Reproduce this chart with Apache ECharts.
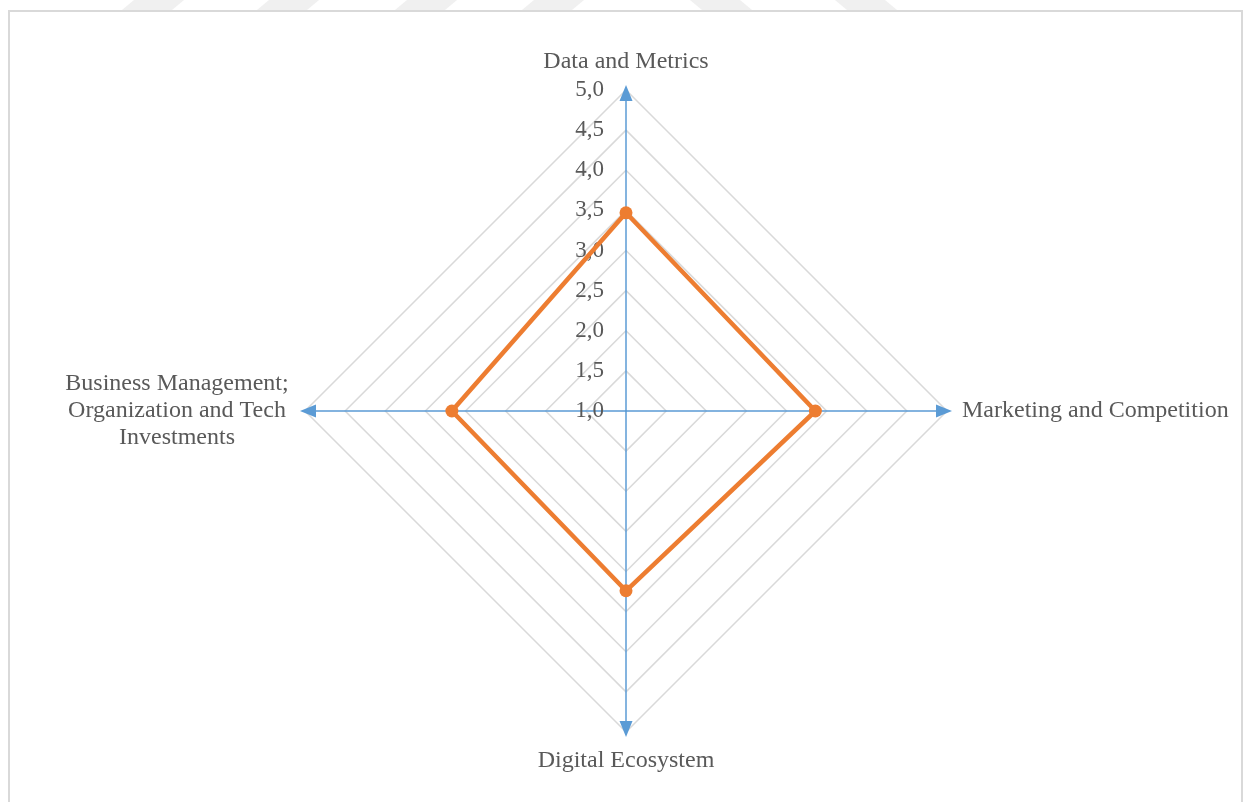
<!DOCTYPE html>
<html>
<head>
<meta charset="utf-8">
<script src="https://cdn.jsdelivr.net/npm/echarts@6/dist/echarts.min.js"></script>
<style>
html,body{margin:0;padding:0;background:#fff;}
#chart{width:1248px;height:802px;}
</style>
</head>
<body>
<div id="chart"></div>
<script>
// Indicators (ECharts radar places them counter-clockwise from the top)
var categories = ['Data and Metrics', 'Business Management;\nOrganization and Tech\nInvestments', 'Digital Ecosystem', 'Marketing and Competition'];
var scores = [3.47, 3.17, 3.24, 3.36];
var axisMin = 1;
var axisMax = 5;
var tickLabels = ['1,0', '1,5', '2,0', '2,5', '3,0', '3,5', '4,0', '4,5', '5,0'];

var chart = echarts.init(document.getElementById('chart'), null, {renderer: 'canvas'});

var stripes = [];
[122, 257, 395, 522].forEach(function (a) {
  stripes.push({type: 'polygon', shape: {points: [[a, 10], [a + 50, 10], [a + 62, 0], [a + 12, 0]]}, style: {fill: '#f0f0f0'}, z: -2});
});
[690, 835].forEach(function (a) {
  stripes.push({type: 'polygon', shape: {points: [[a, 0], [a + 50, 0], [a + 62, 10], [a + 12, 10]]}, style: {fill: '#f0f0f0'}, z: -2});
});

var indicators = categories.map(function (c, i) {
  var ind = {name: c, min: axisMin, max: axisMax};
  if (i !== 0) ind.axisLabel = {show: false};
  return ind;
});

var FONT = 'Liberation Serif';
var FS = 24;

var option = {
  animation: false,
  backgroundColor: '#ffffff',
  graphic: stripes.concat([{
    type: 'rect',
    shape: {x: 9, y: 11, width: 1233, height: 800},
    style: {fill: '#ffffff', stroke: '#d9d9d9', lineWidth: 2},
    z: -1
  }]),
  radar: {
    center: [626, 411],
    radius: 321,
    startAngle: 90,
    shape: 'polygon',
    splitNumber: 8,
    indicator: indicators,
    nameGap: 15,
    axisName: {
      color: '#595959',
      fontFamily: FONT,
      fontSize: FS,
      lineHeight: 27,
      formatter: function (name) {
        if (name.indexOf('\n') < 0) return name;
        return name.split('\n').map(function (l) { return '{c|' + l + '}'; }).join('\n');
      },
      rich: {
        c: {width: 226, align: 'center', color: '#595959', fontFamily: FONT, fontSize: FS, lineHeight: 27}
      }
    },
    axisLine: {
      show: true,
      symbol: ['none', 'triangle'],
      symbolSize: [13, 16],
      symbolOffset: [0, -3],
      lineStyle: {color: '#5b9bd5', width: 1.5}
    },
    axisTick: {show: false},
    axisLabel: {
      show: true,
      color: '#595959',
      fontFamily: FONT,
      fontSize: 23,
      margin: 22,
      formatter: function (v) {
        var idx = Math.round((v - axisMin) / 0.5);
        return tickLabels[idx];
      }
    },
    splitLine: {lineStyle: {color: '#d9d9d9', width: 1.5}},
    splitArea: {show: false}
  },
  series: [{
    type: 'radar',
    symbol: 'circle',
    symbolSize: 13,
    lineStyle: {color: '#ed7d31', width: 4.5},
    itemStyle: {color: '#ed7d31'},
    data: [{value: scores, name: 'Score'}]
  }]
};
chart.setOption(option);
</script>
</body>
</html>
